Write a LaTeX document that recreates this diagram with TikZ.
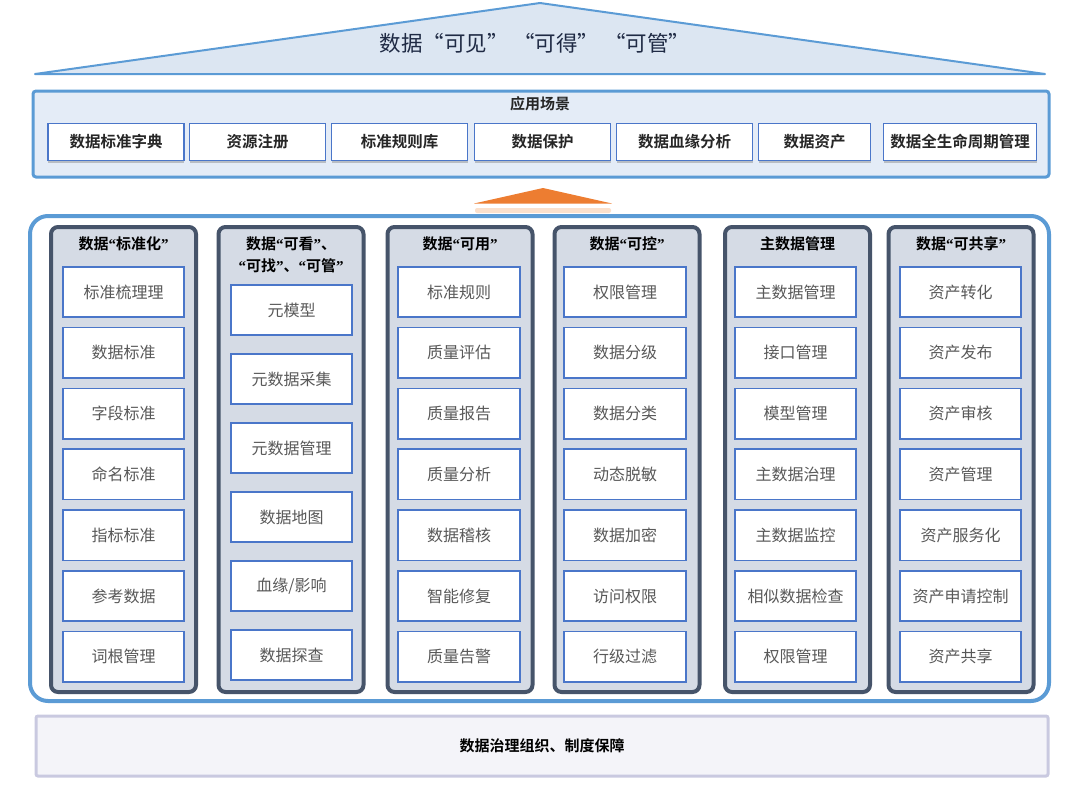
\documentclass[tikz,border=0pt]{standalone}
\usepackage{fontspec}
\setmainfont{Noto Sans CJK SC}[BoldFont={Noto Sans CJK SC Bold}]
\newfontfamily\qfont{Liberation Serif}
\newcommand\oq{{\qfont\bfseries “}}
\newcommand\cq{{\qfont\bfseries ”}}
\usetikzlibrary{shadows}
\definecolor{roofline}{HTML}{5B9BD5}
\definecolor{rooffill}{HTML}{DCE6F2}
\definecolor{titletext}{HTML}{1F2A44}
\definecolor{appfill}{HTML}{E4ECF7}
\definecolor{itemline}{HTML}{4A76C9}
\definecolor{colfill}{HTML}{D5DBE5}
\definecolor{colline}{HTML}{46546A}
\definecolor{itemtext}{HTML}{595959}
\definecolor{orange}{HTML}{ED7D31}
\definecolor{orangelight}{HTML}{FAD3B6}
\definecolor{botfill}{HTML}{F4F4F9}
\definecolor{botline}{HTML}{C9C9E0}
\begin{document}
\begin{tikzpicture}[x=1pt,y=-1pt,
  appitem/.style={draw=itemline, line width=1.5pt, fill=white, minimum width=136pt, minimum height=37pt,
    inner sep=0pt, font=\fontsize{15.5}{18}\selectfont\bfseries, text=black!85,
    drop shadow={shadow xshift=0pt, shadow yshift=-2.5pt, opacity=0.35, fill=black!60}},
  colbox/.style={draw=colline, line width=4pt, fill=colfill, rounded corners=7pt,
    minimum width=145pt, minimum height=465pt, inner sep=0pt},
  coltitle/.style={font=\fontsize{15}{18}\selectfont\bfseries, text=black, inner sep=0pt},
  item/.style={draw=itemline, line width=1.6pt, fill=white, minimum width=121.5pt, minimum height=50.5pt,
    inner sep=0pt, font=\fontsize{16}{19}\selectfont, text=itemtext}]
\useasboundingbox (0,0) rectangle (1080,785);
% roof
\draw[draw=roofline, fill=rooffill, line width=2pt, line join=round] (35,74) -- (540,3) -- (1045,74) -- cycle;
\node[font=\fontsize{21.5}{25}\selectfont, text=titletext] (rooftitle) at (535,43) {数据“可见” “可得” “可管”};
% application scenes
\draw[draw=roofline, fill=appfill, line width=3pt, rounded corners=3pt] (33,91) rectangle (1049,177);
\node[font=\fontsize{15}{17}\selectfont\bfseries, text=black!85] (apptitle) at (540,104) {应用场景};
\node[appitem] (a1) at (116,142) {数据标准字典};
\node[appitem] (a2) at (257.5,142) {资源注册};
\node[appitem] (a3) at (399.5,142) {标准规则库};
\node[appitem] (a4) at (542.5,142) {数据保护};
\node[appitem] (a5) at (684.5,142) {数据血缘分析};
\node[appitem, minimum width=112pt] (a6) at (814.5,142) {数据资产};
\node[appitem, minimum width=153pt] (a7) at (960,142) {数据全生命周期管理};
% orange arrow
\fill[orangelight, opacity=0.7, rounded corners=2pt] (475,208) rectangle (611,213);
\fill[orange] (474,203.5) -- (543,188) -- (612,203.5) -- cycle;
% main box
\draw[draw=roofline, line width=4pt, fill=white, rounded corners=18pt] (30,216) rectangle (1049,701);
% columns
\node[colbox] (c1) at (123.5,459.5) {};
\node[colbox] (c2) at (291,459.5) {};
\node[colbox] (c3) at (460,459.5) {};
\node[colbox] (c4) at (627,459.5) {};
\node[colbox] (c5) at (797.5,459.5) {};
\node[colbox] (c6) at (961,459.5) {};
% column titles
\node[coltitle] (t1) at (123.5,244) {数据\oq 标准化\cq};
\node[coltitle, align=center] (t2) at (291,255) {数据\oq 可看\cq 、\\[4pt]\oq 可找\cq 、\oq 可管\cq};
\node[coltitle] (t3) at (460,244) {数据\oq 可用\cq};
\node[coltitle] (t4) at (627,244) {数据\oq 可控\cq};
\node[coltitle] (t5) at (797.5,244) {主数据管理};
\node[coltitle] (t6) at (961,244) {数据\oq 可共享\cq};
% items
\foreach \t [count=\k from 0] in {标准梳理理,数据标准,字段标准,命名标准,指标标准,参考数据,词根管理}
  \node[item] (i1-\k) at (123.5,292+60.8*\k) {\t};
\foreach \t [count=\k from 0] in {元模型,元数据采集,元数据管理,数据地图,血缘/影响,数据探查}
  \node[item] (i2-\k) at (291.5,310+69*\k) {\t};
\foreach \t [count=\k from 0] in {标准规则,质量评估,质量报告,质量分析,数据稽核,智能修复,质量告警}
  \node[item] (i3-\k) at (459,292+60.8*\k) {\t};
\foreach \t [count=\k from 0] in {权限管理,数据分级,数据分类,动态脱敏,数据加密,访问权限,行级过滤}
  \node[item] (i4-\k) at (625,292+60.8*\k) {\t};
\foreach \t [count=\k from 0] in {主数据管理,接口管理,模型管理,主数据治理,主数据监控,相似数据检查,权限管理}
  \node[item] (i5-\k) at (795.5,292+60.8*\k) {\t};
\foreach \t [count=\k from 0] in {资产转化,资产发布,资产审核,资产管理,资产服务化,资产申请控制,资产共享}
  \node[item] (i6-\k) at (960.5,292+60.8*\k) {\t};
% bottom
\draw[draw=botline, fill=botfill, line width=3pt, rounded corners=2pt] (36,716) rectangle (1048,776);
\node[font=\fontsize{15}{18}\selectfont\bfseries, text=black] (bottom) at (542,746) {数据治理组织、制度保障};
\end{tikzpicture}
\end{document}
